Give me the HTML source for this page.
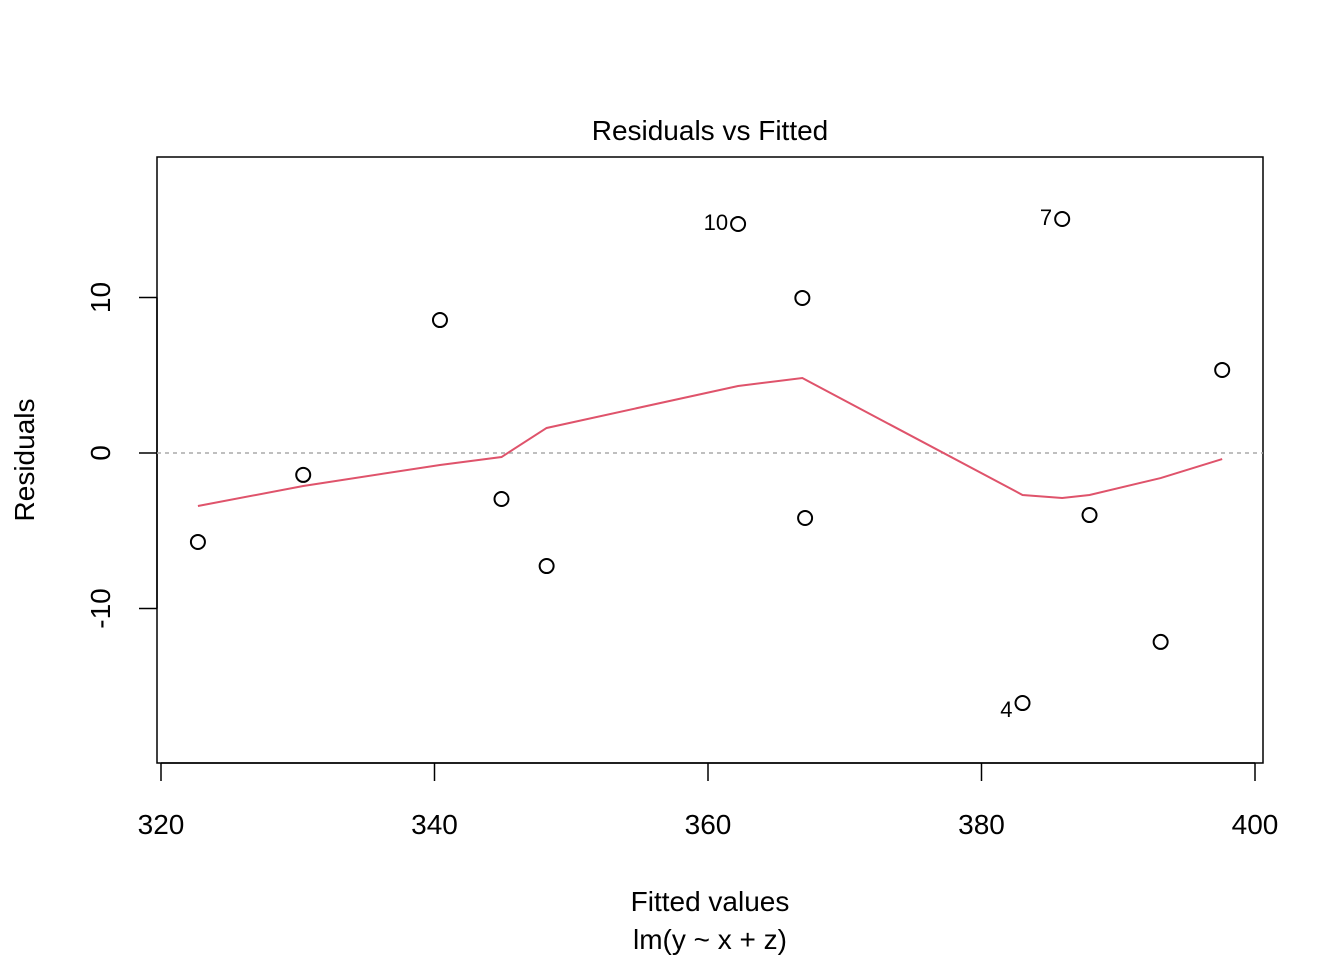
<!DOCTYPE html>
<html><head><meta charset="utf-8"><style>
html,body{margin:0;padding:0;background:#fff;}
svg{display:block;font-family:"Liberation Sans",Arial,sans-serif;}
</style></head><body>
<svg id="chart" width="1344" height="960" viewBox="0 0 1344 960" xmlns="http://www.w3.org/2000/svg">
<text x="710" y="140" font-size="28" text-anchor="middle">Residuals vs Fitted</text>
<rect x="157" y="157" width="1106" height="606" fill="none" stroke="#000" stroke-width="1.5"/>
<g id="xaxis"></g>
<g id="yaxis"></g>
<text x="710" y="911" font-size="28" text-anchor="middle">Fitted values</text>
<text x="710" y="949" font-size="28" text-anchor="middle">lm(y ~ x + z)</text>
<text transform="translate(34,460) rotate(-90)" font-size="28" text-anchor="middle">Residuals</text>
<g id="marks"></g>
</svg>
<script>
const fitted = [322.7,330.4,340.4,344.9,348.2,362.2,366.9,367.1,383.0,385.9,387.9,393.1,397.6];
const residuals = [-5.72,-1.41,8.55,-2.96,-7.27,14.73,9.97,-4.18,-16.08,15.05,-3.99,-12.15,5.34];
const pointLabels = ["","","","","","10","","","4","7","","",""];
const smoothX = [322.7,330.4,340.4,344.9,348.2,362.2,366.9,383.0,385.9,387.9,393.1,397.6];
const smoothY = [-3.41,-2.12,-0.77,-0.26,1.61,4.31,4.82,-2.70,-2.89,-2.70,-1.61,-0.39];
const xTicks = [320,340,360,380,400];
const yTicks = [-10,0,10];

const NS="http://www.w3.org/2000/svg";
const sx = v => 161 + (v-320)*(1255-161)/80;
const sy = v => 453 - v*15.55;
function mk(tag, attrs, parent){const e=document.createElementNS(NS,tag);for(const k in attrs)e.setAttribute(k,attrs[k]);parent.appendChild(e);return e;}
const xa=document.getElementById('xaxis'), ya=document.getElementById('yaxis'), mg=document.getElementById('marks');
mk('line',{x1:sx(xTicks[0]),x2:sx(xTicks[xTicks.length-1]),y1:763,y2:763,stroke:'#000','stroke-width':1.5},xa);
xTicks.forEach(t=>{
  const l=mk('line',{x1:sx(t),x2:sx(t),y1:763,y2:781,stroke:'#000','stroke-width':1.5},xa);
  
  
  const tx=mk('text',{x:sx(t),y:834,'font-size':28,'text-anchor':'middle'},xa);
  tx.textContent=t;
  
  
});
mk('line',{x1:157,x2:157,y1:sy(yTicks[0]),y2:sy(yTicks[yTicks.length-1]),stroke:'#000','stroke-width':1.5},ya);
yTicks.forEach(t=>{
  const l=mk('line',{x1:139,x2:157,y1:sy(t),y2:sy(t),stroke:'#000','stroke-width':1.5},ya);
  
  
  const tx=mk('text',{transform:`translate(110,${sy(t)}) rotate(-90)`,'font-size':28,'text-anchor':'middle'},ya);
  tx.textContent=t;
  
  
});
const zl=mk('line',{x1:157,x2:1263,y1:sy(0),y2:sy(0),stroke:'#aaa','stroke-width':1.5,'stroke-dasharray':'4,4'},mg);


const sm=mk('polyline',{points:smoothX.map((x,i)=>sx(x)+','+sy(smoothY[i])).join(' '),fill:'none',stroke:'#DF536B','stroke-width':2},mg);


fitted.forEach((f,i)=>{
  const c=mk('circle',{cx:sx(f),cy:sy(residuals[i]),r:7,fill:'none',stroke:'#000','stroke-width':2},mg);
  
  
  if(pointLabels[i]){
    const dy = residuals[i]<0 ? 14 : 6;
    const t=mk('text',{x:sx(f)-10,y:sy(residuals[i])+dy,'font-size':22,'text-anchor':'end'},mg);
    t.textContent=pointLabels[i];
    
    
  }
});
</script>
</body></html>
